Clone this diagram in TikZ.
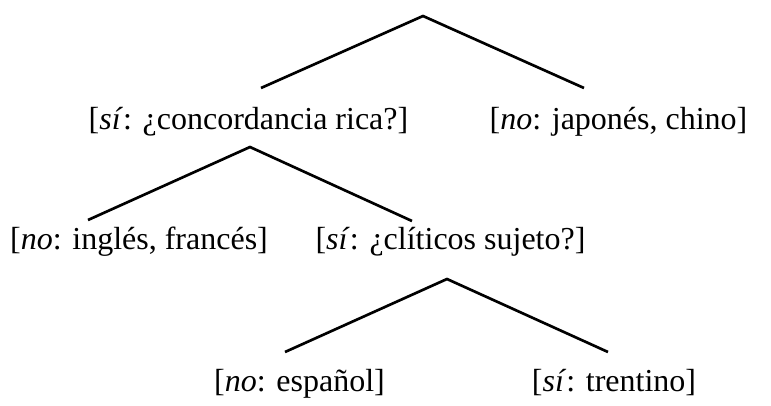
\documentclass[tikz,border=0pt]{standalone}
\usepackage{fontspec}
\setmainfont{Liberation Serif}
\begin{document}
\begin{tikzpicture}[x=0.75pt,y=-0.75pt,
  leaf/.style={anchor=base,inner sep=0pt,font=\fontsize{24}{29}\selectfont},
  branch/.style={line width=2pt,line join=miter}]
\useasboundingbox (0,0) rectangle (771,405);
% text nodes
\node[leaf] (a) at (248.5,129) {[\textit{sí}: ¿concordancia rica?]};
\node[leaf] (b) at (618.5,129) {[\textit{no}: japonés, chino]};
\node[leaf] (c) at (139,249) {[\textit{no}: inglés, francés]};
\node[leaf] (d) at (450.5,249) {[\textit{sí}: ¿clíticos sujeto?]};
\node[leaf] (e) at (299.5,391) {[\textit{no}: español]};
\node[leaf] (f) at (614,391) {[\textit{sí}: trentino]};
% apexes and branch ends
\coordinate (r) at (423,16);
\coordinate (ra) at (261,88);
\coordinate (rb) at (584,88);
\coordinate (s) at (250,147);
\coordinate (sc) at (88,220);
\coordinate (sd) at (412,221);
\coordinate (t) at (447,279);
\coordinate (te) at (285,352);
\coordinate (tf) at (608,352);
\draw[branch] (ra) -- (r) -- (rb);
\draw[branch] (sc) -- (s) -- (sd);
\draw[branch] (te) -- (t) -- (tf);
\end{tikzpicture}
\end{document}
